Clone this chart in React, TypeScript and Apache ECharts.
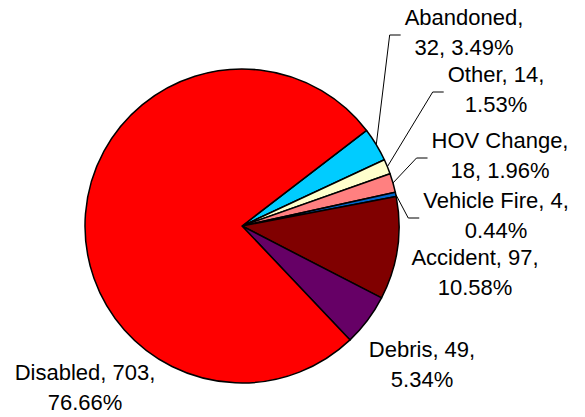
import React, { useEffect, useRef } from "react";
import * as echarts from "echarts";

// ---- data ----
const categories = ["Abandoned", "Other", "HOV Change", "Vehicle Fire", "Accident", "Debris", "Disabled"];
const counts = [32, 14, 18, 4, 97, 49, 703];

// ---- styling / layout (kept separate from data) ----
const colors = ["#00CCFF", "#FFFFCC", "#FF8080", "#0066CC", "#800000", "#660066", "#FF0000"];
const breakAfterName = [true, false, true, false, false, false, false];
const showLeader = [true, true, true, true, false, false, false];
const labelCenters: number[][] = [
  [464, 32],
  [496, 89],
  [500, 155],
  [496, 215],
  [475, 272],
  [422, 364],
  [85, 387],
];

const total = counts.reduce((a, b) => a + b, 0);

export default function App() {
  const ref = useRef<HTMLDivElement>(null);

  useEffect(() => {
    if (!ref.current) return;
    const chart = echarts.init(ref.current, undefined, { renderer: "svg" });
    chart.setOption({
      animation: false,
      backgroundColor: "#ffffff",
      series: [
        {
          type: "pie",
          center: [242, 226],
          radius: 157,
          startAngle: 37.5,
          clockwise: true,
          avoidLabelOverlap: false,
          emphasis: { disabled: true },
          itemStyle: { borderColor: "#000000", borderWidth: 1.5 },
          label: {
            show: true,
            position: "outside",
            color: "#000000",
            fontFamily: "'Liberation Sans', Arial, sans-serif",
            fontSize: 22,
            lineHeight: 30,
            formatter: (p: any) => {
              const i = p.dataIndex;
              const pct = ((counts[i] / total) * 100).toFixed(2) + "%";
              return breakAfterName[i]
                ? `${categories[i]},\n${counts[i]}, ${pct}`
                : `${categories[i]}, ${counts[i]},\n${pct}`;
            },
          },
          labelLine: {
            show: true,
            length: 10,
            length2: 10,
            lineStyle: { color: "#000000", width: 1 },
          },
          labelLayout: (p: any) => {
            const i = p.dataIndex;
            const [lx, ly] = labelCenters[i];
            const out: any = { x: lx, y: ly, align: "center", verticalAlign: "middle" };
            const pts = p.labelLinePoints;
            if (showLeader[i] && pts && pts.length) {
              const left = lx - p.labelRect.width / 2;
              const ay = ly + 3;
              out.labelLinePoints = [pts[0], [left - 15, ay], [left - 4, ay]];
            }
            return out;
          },
          data: categories.map((name, i) => ({
            name,
            value: counts[i],
            itemStyle: { color: colors[i] },
            labelLine: { show: showLeader[i] },
          })),
        },
      ],
    });
    return () => chart.dispose();
  }, []);

  return (
    <div
      ref={ref}
      style={{ position: "absolute", left: 0, top: 0, width: 585, height: 417 }}
    />
  );
}
